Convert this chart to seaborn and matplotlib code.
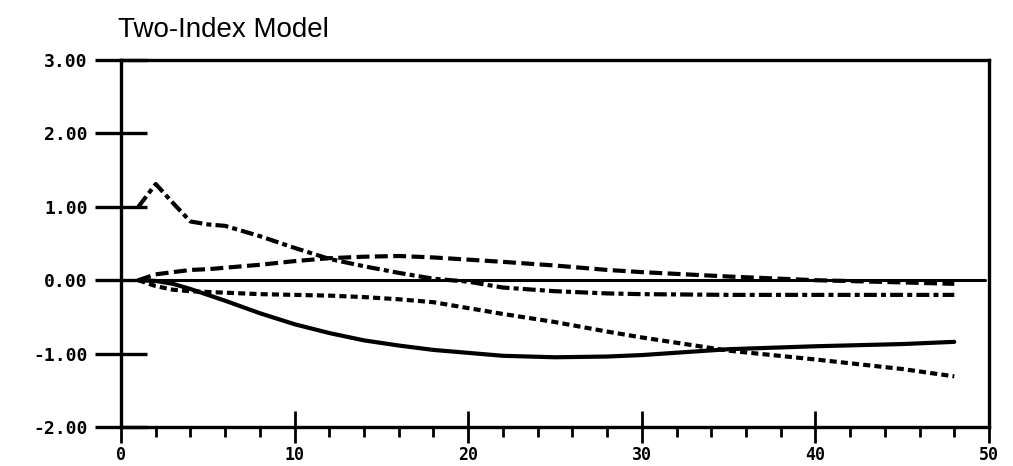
import numpy as np
import pandas as pd
import matplotlib
matplotlib.use('Agg')
import matplotlib.pyplot as plt
from matplotlib.ticker import MultipleLocator
import seaborn as sns
sns.set_style('white')

# values
periods = [1, 2, 3, 4, 5, 6, 8, 10, 12, 14, 16, 18, 20, 22, 25, 28, 30, 35, 40, 45, 48]
dashdot = [1.00, 1.31, 1.05, 0.80, 0.76, 0.74, 0.60, 0.44, 0.29, 0.19, 0.10, 0.02, -0.02, -0.10,
           -0.15, -0.18, -0.19, -0.20, -0.20, -0.20, -0.20]
longdash = [0.00, 0.08, 0.11, 0.14, 0.15, 0.17, 0.21, 0.26, 0.30, 0.32, 0.33, 0.31, 0.28, 0.25,
            0.20, 0.14, 0.11, 0.05, 0.00, -0.03, -0.05]
shortdash = [0.00, -0.08, -0.13, -0.15, -0.16, -0.17, -0.19, -0.20, -0.21, -0.23, -0.26, -0.30,
             -0.38, -0.46, -0.57, -0.70, -0.78, -0.96, -1.08, -1.21, -1.31]
solid = [0.00, -0.01, -0.05, -0.12, -0.20, -0.28, -0.45, -0.60, -0.72, -0.82, -0.89, -0.95,
         -0.99, -1.03, -1.05, -1.04, -1.02, -0.94, -0.90, -0.87, -0.84]

y_ticks = [-2, -1, 0, 1, 2, 3]
y_labels = ['-2.00', '-1.00', '0.00', '1.00', '2.00', '3.00']
x_ticks = [0, 10, 20, 30, 40, 50]
x_labels = ['0', '10', '20', '30', '40', '50']
title = 'Two-Index Model'

df = pd.DataFrame({'period': periods, 'dashdot': dashdot, 'longdash': longdash,
                   'shortdash': shortdash, 'solid': solid})

fig = plt.figure(figsize=(10.13, 4.66), dpi=100)
ax = fig.add_axes([121/1013, 1 - 427/466, (989 - 121)/1013, (427 - 60)/466])

styles = {'dashdot': (0, (3.1, 1.0, 1.2, 1.0)),
          'longdash': (0, (3.1, 1.3)),
          'shortdash': (0, (1.7, 1.0)),
          'solid': '-'}
for name, ls in styles.items():
    sns.lineplot(data=df, x='period', y=name, ax=ax, color='black', lw=3, linestyle=ls)

ax.axhline(0, xmin=0.02, xmax=0.995, color='black', lw=2.2)

ax.set_xlim(0, 50)
ax.set_ylim(-2, 3)
ax.set_xlabel('')
ax.set_ylabel('')

ax.set_yticks(y_ticks)
ax.set_yticklabels(y_labels, fontfamily='DejaVu Sans Mono', fontweight='bold', fontsize=13)
ax.set_xticks(x_ticks)
ax.set_xticklabels(x_labels, fontfamily='DejaVu Sans Mono', fontweight='bold', fontsize=12)
ax.xaxis.set_minor_locator(MultipleLocator(2))

ax.tick_params(axis='y', which='major', direction='inout', length=38, width=2.4, pad=5,
               left=True, color='black', labelcolor='black')
ax.tick_params(axis='x', which='major', direction='inout', length=23, width=2.0, pad=2,
               bottom=True, color='black', labelcolor='black')
ax.tick_params(axis='x', which='minor', direction='out', length=7, width=2.0,
               bottom=True, color='black')

for s in ax.spines.values():
    s.set_linewidth(2.4)
    s.set_color('black')

fig.text(118/1013, 1 - 37/466, title, fontfamily='Liberation Sans', fontsize=20,
         color='black', ha='left', va='baseline')

fig.savefig('out.png', dpi=100)
